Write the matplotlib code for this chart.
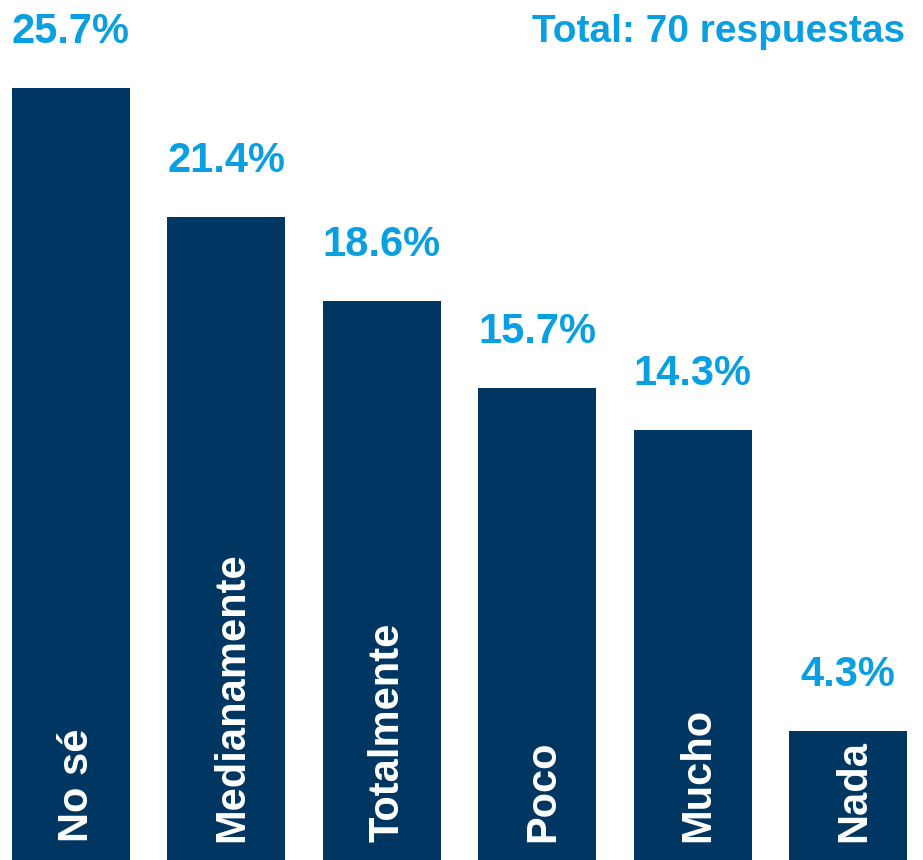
import matplotlib
matplotlib.use("Agg")
import matplotlib.pyplot as plt

categories = ["No sé", "Medianamente", "Totalmente", "Poco", "Mucho", "Nada"]
values = [25.7, 21.4, 18.6, 15.7, 14.3, 4.3]
total_label = "Total: 70 respuestas"

navy = "#003662"
blue = "#0a9fe0"
font = "Liberation Sans"

W, H = 923, 860
fig = plt.figure(figsize=(W / 100, H / 100), dpi=100)
ax = fig.add_axes([0, 0, 1, 1])
ax.set_axis_off()

pitch = 155.4
x0 = 71
ax.set_xlim(-x0 / pitch, (W - x0) / pitch)
scale = 30.04
ax.set_ylim(0, H / scale)

xs = list(range(len(categories)))
ax.bar(xs, values, width=118 / pitch, color=navy)

fs = 30
for x, v, c in zip(xs, values, categories):
    ax.text(x, v + 45 / scale, f"{v:.1f}%", ha="center", va="baseline",
            color=blue, fontsize=fs, fontweight="bold", family=font)
    ax.text(x + 6 / pitch, 18 / scale, c, rotation=90, ha="center", va="bottom",
            color="white", fontsize=fs, fontweight="bold", family=font)

fig.text(905 / W, 1 - 42 / H, total_label, ha="right", va="baseline", color=blue,
         fontsize=28, fontweight="bold", family=font)

fig.savefig("out.png", dpi=100)
